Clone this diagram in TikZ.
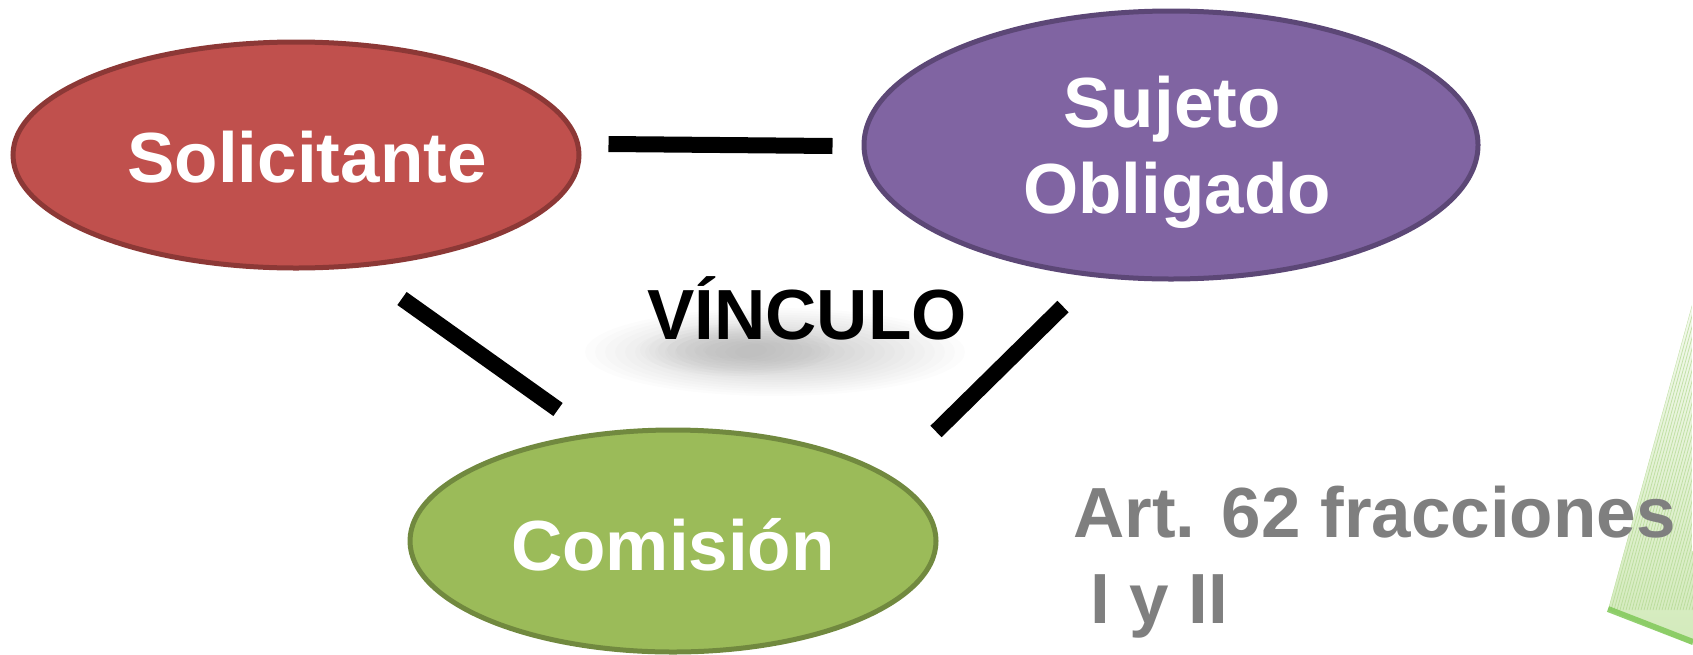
\documentclass[tikz,border=0pt]{standalone}
\usepackage{fontspec}
\setmainfont{Liberation Sans}
\usetikzlibrary{shapes.geometric,calc}
\definecolor{solfill}{HTML}{C0504D}
\definecolor{soldraw}{HTML}{8C3836}
\definecolor{sujfill}{HTML}{8064A2}
\definecolor{sujdraw}{HTML}{5C4776}
\definecolor{comfill}{HTML}{9BBB59}
\definecolor{comdraw}{HTML}{71893F}
\definecolor{arttext}{HTML}{7F7F7F}
\definecolor{paper}{HTML}{D2EABA}
\definecolor{paperstripe}{HTML}{B2D890}
\definecolor{paperedge}{HTML}{80C858}
\begin{document}
\begin{tikzpicture}[x=1pt,y=-1pt,
  oval/.style={ellipse, inner sep=0pt, line width=5pt},
  big/.style={font=\bfseries\fontsize{71}{86}\selectfont},
  link/.style={line width=16pt, black},
]
\useasboundingbox (0,0) rectangle (1693,654);
% decorative paper at the right edge
\begin{scope}
  \clip (1692,305) -- (1608,610) -- (1693,645) -- cycle;
  \shade[top color=paper!25!white, bottom color=paper] (1600,300) rectangle (1693,650);
  \foreach \k in {0,3,...,120}
    \draw[paperstripe, line width=0.8pt, opacity=.7] ({1692+\k},305) -- ({1608+\k},610);
\end{scope}
\draw[paperedge, line width=6pt, opacity=.85] (1608,609) -- (1693,642);

% ellipses
\node[oval, fill=solfill, draw=soldraw, minimum width=566pt, minimum height=226pt] (sol) at (296,155) {};
\node[oval, fill=sujfill, draw=sujdraw, minimum width=614pt, minimum height=268pt] (suj) at (1171,145) {};
\node[oval, fill=comfill, draw=comdraw, minimum width=526pt, minimum height=222pt] (com) at (673,541) {};

% labels
\node[big, white, anchor=base] (solt) at (307,182) {Solicitante};
\node[big, white, anchor=base] (sujt1) at (1172,127) {Sujeto};
\node[big, white, anchor=base] (sujt2) at (1177,213) {Obligado};
\node[big, white, anchor=base] (comt) at (673,570) {Comisión};

% soft shadow and VINCULO
\foreach \i in {0,...,15}
  \fill[black, opacity=0.011] (775,352) ellipse ({190-10*\i} and {44-2.3*\i});
\foreach \i in {0,...,7}
  \fill[black, opacity=0.01] (735,350) ellipse ({95-9*\i} and {26-2.5*\i});
\node[big, black, anchor=base] (vin) at (807,339) {VÍNCULO};

\node[big, arttext, anchor=base west, inner sep=0pt] (art1) at (1073,537) {Art. 62 fracciones};
\node[big, arttext, anchor=base west, inner sep=0pt] (art2) at (1090,623) {I y II};

% connectors
\draw[link] ($(sol.east)+(27,-11)$) -- ($(suj.west)+(-29,1)$);
\draw[link] ($(sol.south)+(106,28)$) -- ($(com.north)+(-115,-18)$);
\draw[link] ($(suj.south)+(-108,25)$) -- ($(com.north)+(263,4)$);
\end{tikzpicture}
\end{document}
